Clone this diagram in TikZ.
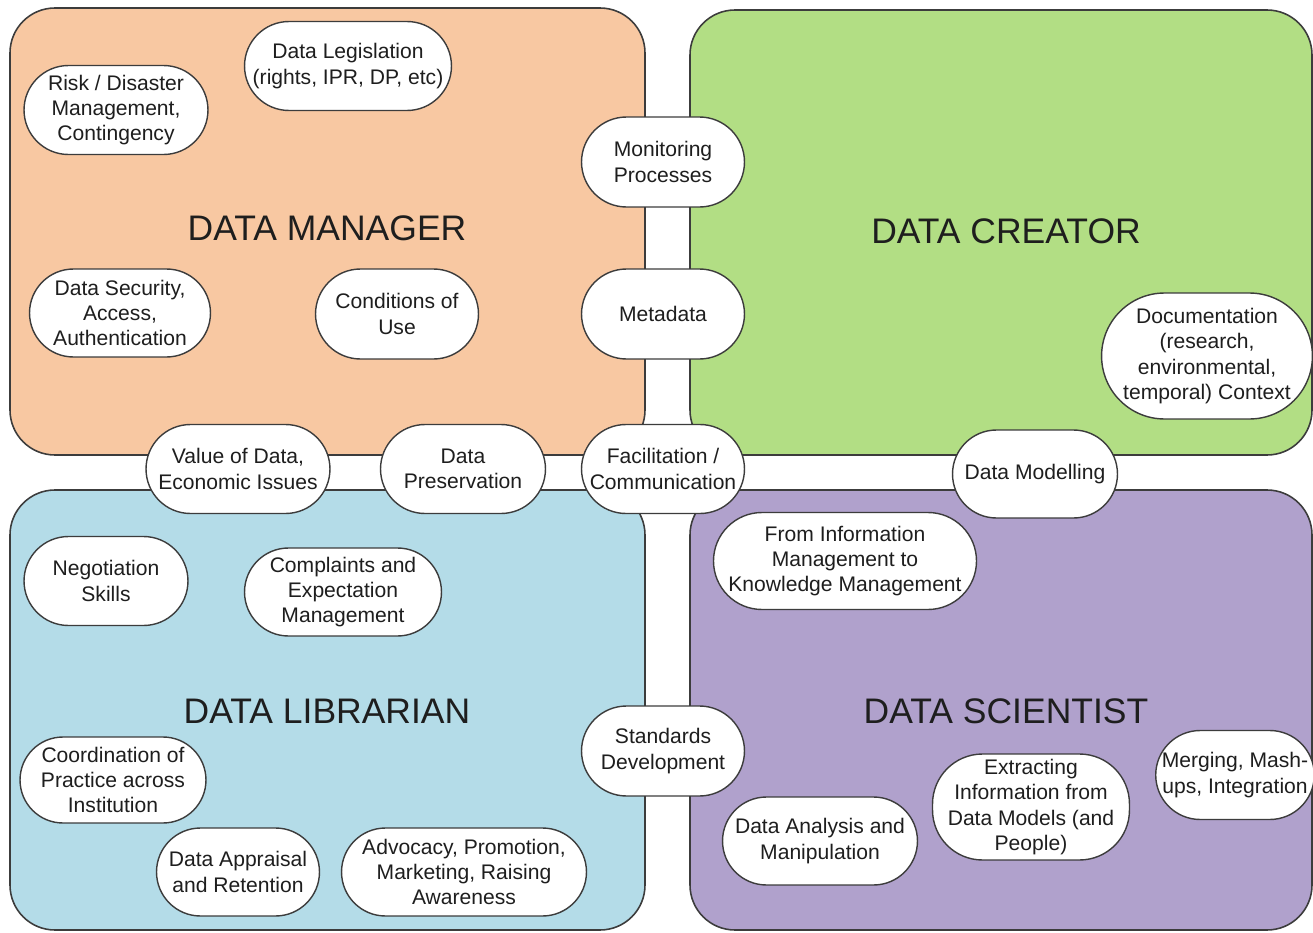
\documentclass[tikz,border=0pt]{standalone}
\usepackage{fontspec}
\setmainfont{Liberation Sans}
\usetikzlibrary{shapes.misc}
\definecolor{mgr}{RGB}{248,200,162}
\definecolor{crt}{RGB}{178,222,132}
\definecolor{lib}{RGB}{180,220,232}
\definecolor{sci}{RGB}{176,161,204}
\definecolor{edge}{RGB}{60,60,60}
\definecolor{txt}{RGB}{30,30,30}
\tikzset{
  quad/.style={draw=edge, line width=0.9pt, rounded corners=0.9cm},
  ov/.style={rounded rectangle, draw=edge, line width=0.8pt, fill=white, inner sep=0pt,
    align=center, text=txt, font=\fontsize{12}{14.3}\selectfont},
  title/.style={text=txt, font=\fontsize{20.2}{24}\selectfont, inner sep=0pt}
}
\begin{document}
\begin{tikzpicture}[x=0.02cm, y=-0.02cm]
\useasboundingbox (0,0) rectangle (1313,933);
\fill[white] (0,0) rectangle (1313,933);
% quadrants
\draw[quad, fill=mgr] (10,8) rectangle (645,455);
\draw[quad, fill=crt] (690,10) rectangle (1312,455);
\draw[quad, fill=lib] (10,490) rectangle (645,930);
\draw[quad, fill=sci] (690,490) rectangle (1312,930);
% titles
\node[title] (tmgr) at (327,228) {DATA MANAGER};
\node[title] (tcrt) at (1006,231) {DATA CREATOR};
\node[title] (tlib) at (327,711) {DATA LIBRARIAN};
\node[title] (tsci) at (1006,711) {DATA SCIENTIST};
% manager
\node[ov, minimum width=3.68cm, minimum height=1.78cm] (risk) at (116,110) {Risk / Disaster\\Management,\\Contingency};
\node[ov, minimum width=4.14cm, minimum height=1.78cm] (legis) at (348,66) {Data Legislation\\(rights, IPR, DP, etc)};
\node[ov, minimum width=3.62cm, minimum height=1.76cm] (secur) at (120,313) {Data Security,\\Access,\\Authentication};
\node[ov, minimum width=3.26cm, minimum height=1.8cm] (cond) at (397,314) {Conditions of\\Use};
% middle column
\node[ov, minimum width=3.26cm, minimum height=1.8cm] (monit) at (663,162) {Monitoring\\Processes};
\node[ov, minimum width=3.26cm, minimum height=1.8cm] (meta) at (663,314) {Metadata};
\node[ov, minimum width=3.26cm, minimum height=1.78cm] (facil) at (663,469) {Facilitation /\\Communication};
\node[ov, minimum width=3.26cm, minimum height=1.8cm] (stand) at (663,751) {Standards\\Development};
% horizontal gap
\node[ov, minimum width=3.68cm, minimum height=1.78cm] (value) at (238,469) {Value of Data,\\Economic Issues};
\node[ov, minimum width=3.3cm, minimum height=1.78cm] (pres) at (463,469) {Data\\Preservation};
\node[ov, minimum width=3.3cm, minimum height=1.76cm] (model) at (1035,474) {Data Modelling};
% creator
\node[ov, minimum width=4.2cm, minimum height=2.52cm] (doc) at (1207,356) {Documentation\\(research,\\environmental,\\temporal) Context};
% librarian
\node[ov, minimum width=3.28cm, minimum height=1.78cm] (negot) at (106,581) {Negotiation\\Skills};
\node[ov, minimum width=3.94cm, minimum height=1.76cm] (compl) at (343,592) {Complaints and\\Expectation\\Management};
\node[ov, minimum width=3.72cm, minimum height=1.72cm] (coord) at (113,780) {Coordination of\\Practice across\\Institution};
\node[ov, minimum width=3.26cm, minimum height=1.76cm] (apprais) at (238,872) {Data Appraisal\\and Retention};
\node[ov, minimum width=4.9cm, minimum height=1.76cm] (advoc) at (464,872) {Advocacy, Promotion,\\Marketing, Raising\\Awareness};
% scientist
\node[ov, minimum width=5.22cm, minimum height=1.94cm] (info) at (845,561) {From Information\\Management to\\Knowledge Management};
\node[ov, minimum width=3.9cm, minimum height=1.76cm] (anal) at (820,841) {Data Analysis and\\Manipulation};
\node[ov, rectangle, rounded corners=1cm, minimum width=3.94cm, minimum height=2.12cm] (extr) at (1031,807) {Extracting\\Information from\\Data Models (and\\People)};
\node[ov, minimum width=3.12cm, minimum height=1.78cm] (merge) at (1235,775) {Merging, Mash-\\ups, Integration};
\end{tikzpicture}
\end{document}
